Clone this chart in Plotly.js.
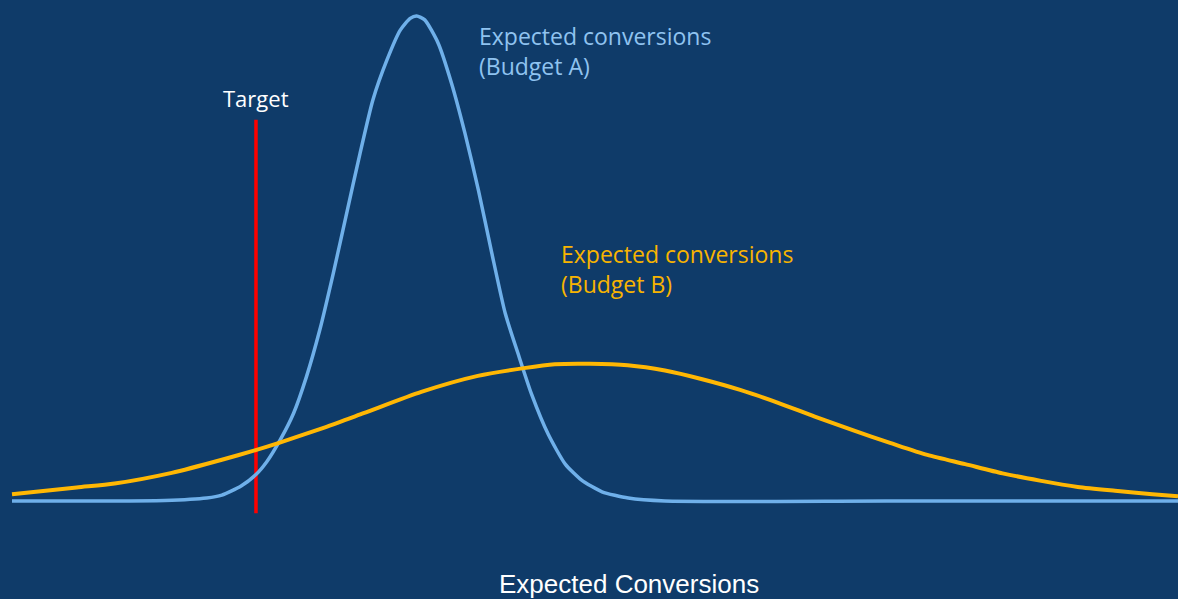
<!DOCTYPE html>
<html>
<head>
<meta charset="utf-8">
<script src="https://cdn.plot.ly/plotly-3.0.1.min.js"></script>
<style>html,body{margin:0;padding:0;background:#0f3b69;}#chart{width:1178px;height:599px;}</style>
</head>
<body>
<div id="chart"></div>
<script>
// Expected conversions (arbitrary units) and relative densities
const budgetA_x = [0, 26.2, 33.4, 36.0, 39.3, 41.8, 43.7, 46.0, 48.3, 50.5, 52.8, 55.1, 57.4, 59.7, 61.9, 64.3, 66.6, 68.3, 69.4, 70.8, 73.1, 75.4, 77.7, 80.0, 82.3, 84.6, 86.8, 89.1, 92.0, 94.9, 97.7, 101.2, 105.7, 112.0, 150, 200];
const budgetA_y = [0, 0.1, 0.6, 1.2, 3.1, 5.4, 8.1, 12.6, 18.1, 25.6, 35.3, 46.9, 59.3, 71.7, 82.7, 90.9, 97.1, 99.5, 100, 99.2, 94.4, 86.1, 75.8, 64.1, 51.1, 38.7, 30.4, 22.1, 13.7, 7.6, 4.3, 1.9, 0.6, 0, 0, 0];

const budgetB_x = [0, 11.1, 17.6, 27.4, 36.0, 41.8, 45.8, 53.7, 60.3, 70.2, 79.9, 87.8, 93.1, 99.1, 105.6, 112.0, 118.4, 124.9, 131.3, 137.7, 144.2, 150.6, 157.0, 163.5, 169.9, 176.3, 182.8, 189.2, 195.6, 200];
const budgetB_y = [1.4, 2.8, 3.6, 5.8, 8.5, 10.5, 12.0, 15.2, 18.1, 22.5, 25.8, 27.4, 28.2, 28.3, 28.0, 26.9, 25.1, 22.9, 20.3, 17.4, 14.6, 12.0, 9.5, 7.6, 5.7, 4.2, 2.9, 2.1, 1.4, 1.0];

const target_x = [41.85, 41.85];
const target_y = [-2.5, 78.6];

const labels = {
  target: "Target",
  a: "Expected conversions<br>(Budget A)",
  b: "Expected conversions<br>(Budget B)",
  axis: "Expected Conversions"
};

const bg = "#0f3b69";

const traces = [
  {x: target_x, y: target_y, mode: "lines", line: {color: "#ff0000", width: 3.5}, hoverinfo: "skip"},
  {x: budgetA_x, y: budgetA_y, mode: "lines", line: {color: "#6fb0ea", width: 3.5, shape: "spline", smoothing: 0.6}, name: "Budget A"},
  {x: budgetB_x, y: budgetB_y, mode: "lines", line: {color: "#ffb703", width: 4, shape: "spline", smoothing: 0.7}, name: "Budget B"}
];

const layout = {
  width: 1178, height: 599,
  margin: {l: 0, r: 0, t: 0, b: 59, pad: 0},
  paper_bgcolor: bg, plot_bgcolor: bg,
  showlegend: false,
  xaxis: {range: [-2.058, 200], showgrid: false, zeroline: false, showticklabels: false, showline: false, ticks: "", fixedrange: true},
  yaxis: {range: [-8.04, 103.3], showgrid: false, zeroline: false, showticklabels: false, showline: false, ticks: "", fixedrange: true},
  annotations: [
    {x: 41.85, y: 83.1, xref: "x", yref: "y", text: labels.target, showarrow: false, xanchor: "center", yanchor: "middle",
     font: {family: "Open Sans", size: 22, color: "#ffffff"}},
    {x: 79.75, y: 92.8, xref: "x", yref: "y", text: labels.a, showarrow: false, xanchor: "left", yanchor: "middle", align: "left",
     font: {family: "Open Sans", size: 23, color: "#8fc3f0"}},
    {x: 93.85, y: 47.8, xref: "x", yref: "y", text: labels.b, showarrow: false, xanchor: "left", yanchor: "middle", align: "left",
     font: {family: "Open Sans", size: 23, color: "#f8b400"}},
    {x: 0.534, y: -0.0815, xref: "paper", yref: "paper", text: labels.axis, showarrow: false, xanchor: "center", yanchor: "middle",
     font: {family: "Liberation Sans, Arial", size: 26, color: "#ffffff"}}
  ]
};

Plotly.newPlot("chart", traces, layout, {displayModeBar: false, staticPlot: true});
</script>
</body>
</html>
